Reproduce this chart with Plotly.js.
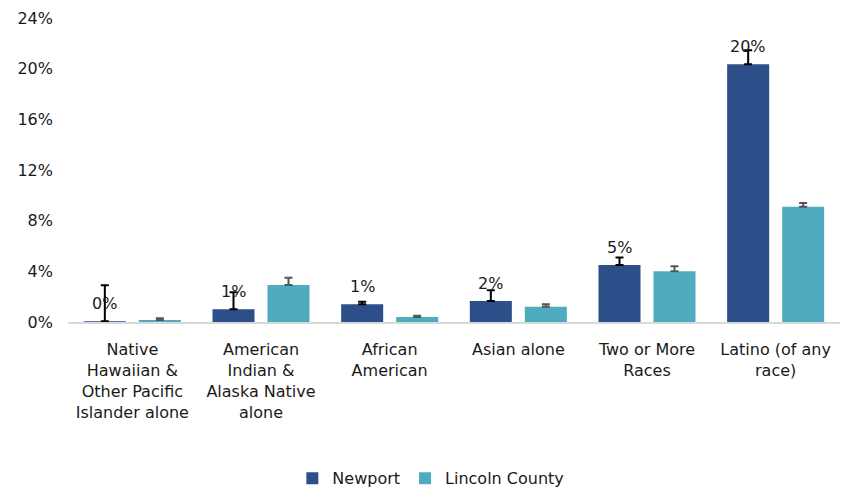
<!DOCTYPE html>
<html>
<head>
<meta charset="utf-8">
<script src="https://cdn.plot.ly/plotly-3.0.1.min.js"></script>
<style>html,body{margin:0;padding:0;background:#fff;}#chart{width:843px;height:491px;}</style>
</head>
<body>
<div id="chart"></div>
<script>
const categories = [
  "Native<br>Hawaiian &<br>Other Pacific<br>Islander alone",
  "American<br>Indian &<br>Alaska Native<br>alone",
  "African<br>American",
  "Asian alone",
  "Two or More<br>Races",
  "Latino (of any<br>race)"
];
const newport = [0.05, 1.0, 1.4, 1.65, 4.5, 20.35];
const newportErr = [2.85, 1.35, 0.2, 0.85, 0.6, 1.1];
const lincoln = [0.16, 2.92, 0.4, 1.2, 4.0, 9.1];
const lincolnErr = [0.13, 0.58, 0.1, 0.2, 0.4, 0.3];
const newportLabels = newport.map(v => Math.round(v) + "%");

const font = "DejaVu Sans, sans-serif";
const txt = "#1a1a1a";

const traces = [
  {
    type: "bar", name: "Newport", x: categories, y: newport,
    marker: {color: "#2C4F8A"},
    error_y: {type: "data", array: newportErr, symmetric: false, arrayminus: newport.map(()=>0), color: "#000000", thickness: 2, width: 4},
    hoverinfo: "none"
  },
  {
    type: "bar", name: "Lincoln County", x: categories, y: lincoln,
    marker: {color: "#4FACBF"},
    error_y: {type: "data", array: lincolnErr, symmetric: false, arrayminus: lincoln.map(()=>0), color: "#555555", thickness: 2, width: 4},
    hoverinfo: "none"
  }
];

const annotations = categories.map((c, i) => ({
  x: c, y: newport[i], xref: "x", yref: "y",
  text: newportLabels[i], showarrow: false,
  xanchor: "center", yanchor: "bottom", xshift: -27.5, yshift: 6,
  font: {family: font, size: 16, color: txt}
}));

const layout = {
  width: 843, height: 491,
  margin: {l: 68, r: 3, t: 18, b: 169},
  paper_bgcolor: "#fff", plot_bgcolor: "#fff",
  barmode: "group", bargap: 0.145, bargroupgap: 0.236,
  font: {family: font, size: 16, color: txt},
  xaxis: {
    showgrid: false, showline: true, linecolor: "#d9d9d9", linewidth: 2,
    ticks: "", ticklabelstandoff: 12, tickfont: {family: font, size: 16, color: txt}, fixedrange: true
  },
  yaxis: {
    range: [0, 24], dtick: 4, ticksuffix: "%", showgrid: false, zeroline: false,
    showline: false, ticks: "", ticklabelstandoff: 14, tickfont: {family: font, size: 16, color: txt}, fixedrange: true
  },
  annotations: annotations,
  showlegend: true,
  legend: {orientation: "h", x: 0.47, xanchor: "center", yref: "container", y: 0.026, yanchor: "middle",
    font: {family: font, size: 16, color: txt}}
};

Plotly.newPlot("chart", traces, layout, {displayModeBar: false, staticPlot: true});
</script>
</body>
</html>
